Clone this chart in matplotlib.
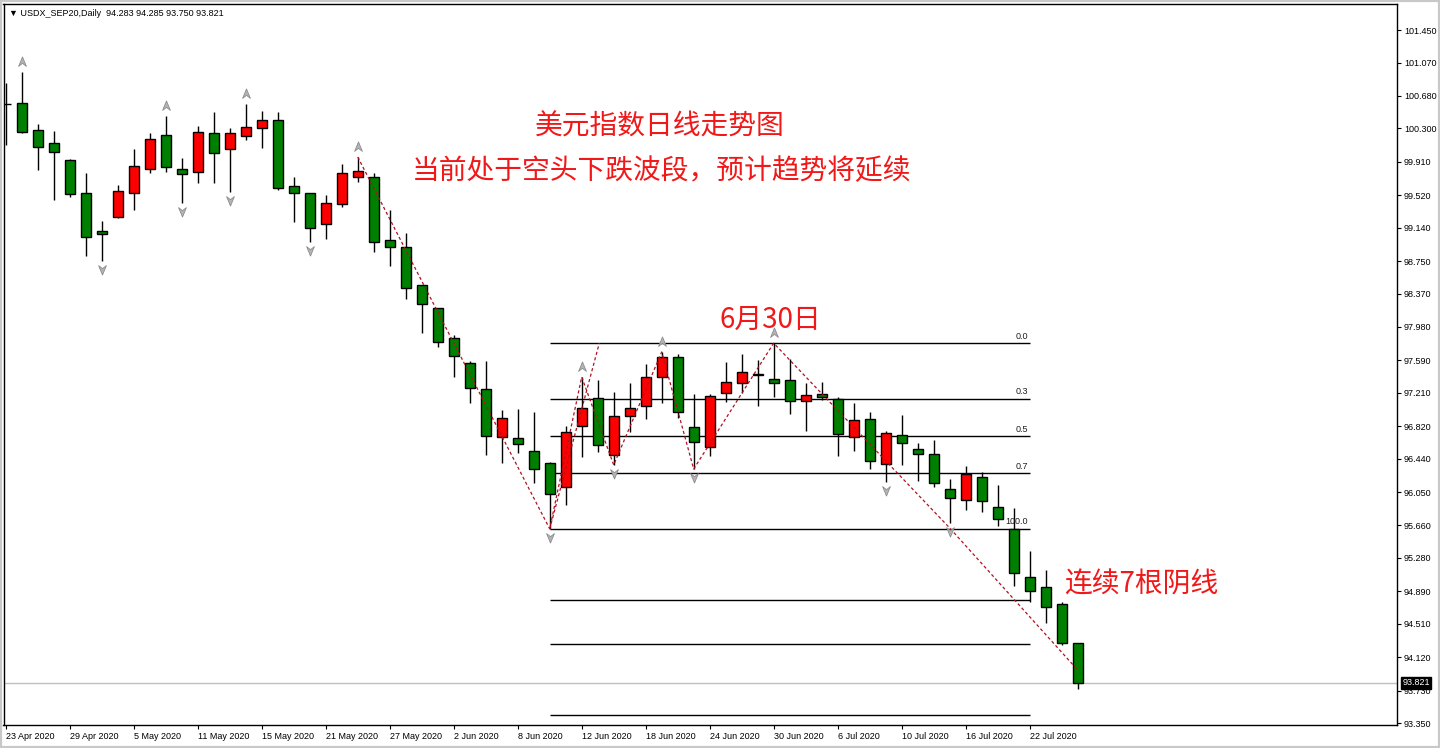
import numpy as np
import matplotlib.pyplot as plt
from matplotlib.path import Path
import matplotlib.transforms as mtransforms
from matplotlib.patches import Rectangle

# USDX Sep20 daily bars, 23 Apr 2020 .. 27 Jul 2020 (index 0 is the clipped first bar)
opens = [100.585, 100.597, 100.281, 100.129, 99.931, 99.545, 99.101, 99.264, 99.545, 99.825,
         100.223, 99.825, 99.790, 100.246, 100.059, 100.211, 100.305, 100.398, 99.627, 99.545,
         99.183, 99.416, 99.732, 99.732, 98.996, 98.914, 98.470, 98.201, 97.850, 97.558,
         97.254, 96.693, 96.681, 96.529, 96.389, 96.109, 96.822, 97.149, 96.483, 96.938,
         97.055, 97.394, 97.628, 96.810, 96.576, 97.207, 97.324, 97.429, 97.371, 97.359,
         97.114, 97.196, 97.137, 96.693, 96.903, 96.377, 96.716, 96.553, 96.494, 96.085,
         95.957, 96.225, 95.875, 95.618, 95.057, 94.940, 94.741, 94.283]
highs = [100.831, 100.959, 100.351, 100.270, 99.940, 99.779, 99.218, 99.638, 100.059, 100.246,
         100.445, 99.954, 100.328, 100.492, 100.305, 100.585, 100.503, 100.492, 99.732, 99.550,
         99.521, 99.884, 99.966, 99.779, 99.346, 99.077, 98.475, 98.205, 97.885, 97.581,
         97.581, 97.009, 97.020, 96.985, 96.400, 96.822, 97.394, 97.359, 97.219, 97.324,
         97.546, 97.687, 97.663, 97.196, 97.196, 97.570, 97.663, 97.593, 97.790, 97.605,
         97.324, 97.336, 97.161, 97.090, 96.985, 96.763, 96.950, 96.623, 96.658, 96.202,
         96.354, 96.284, 96.132, 95.863, 95.361, 95.138, 94.765, 94.285]
lows = [100.106, 100.246, 99.814, 99.463, 99.498, 98.809, 98.750, 99.255, 99.346, 99.779,
        99.790, 99.428, 99.662, 99.662, 99.557, 100.164, 100.071, 99.580, 99.206, 98.972,
        99.007, 99.381, 99.673, 98.855, 98.692, 98.306, 97.909, 97.745, 97.394, 97.090,
        96.483, 96.389, 96.506, 96.155, 95.620, 95.898, 96.459, 96.518, 96.366, 96.751,
        96.903, 97.090, 96.915, 96.319, 96.471, 97.102, 97.207, 97.055, 97.161, 96.962,
        96.763, 97.125, 96.471, 96.529, 96.319, 96.167, 96.366, 96.179, 96.109, 95.688,
        95.840, 95.816, 95.653, 94.952, 94.765, 94.519, 94.262, 93.750]
closes = [100.585, 100.258, 100.083, 100.024, 99.533, 99.031, 99.066, 99.568, 99.860, 100.176,
          99.849, 99.767, 100.258, 100.012, 100.246, 100.316, 100.398, 99.603, 99.545, 99.136,
          99.428, 99.779, 99.802, 98.972, 98.914, 98.434, 98.247, 97.803, 97.640, 97.266,
          96.705, 96.915, 96.611, 96.319, 96.027, 96.751, 97.032, 96.599, 96.938, 97.032,
          97.394, 97.628, 96.985, 96.635, 97.172, 97.336, 97.453, 97.418, 97.324, 97.114,
          97.184, 97.161, 96.728, 96.892, 96.413, 96.740, 96.623, 96.494, 96.155, 95.980,
          96.261, 95.945, 95.735, 95.103, 94.893, 94.706, 94.283, 93.821]

date_labels = ['23 Apr 2020', '29 Apr 2020', '5 May 2020', '11 May 2020', '15 May 2020',
               '21 May 2020', '27 May 2020', '2 Jun 2020', '8 Jun 2020', '12 Jun 2020',
               '18 Jun 2020', '24 Jun 2020', '30 Jun 2020', '6 Jul 2020', '10 Jul 2020',
               '16 Jul 2020', '22 Jul 2020']
price_ticks = [101.450, 101.070, 100.680, 100.300, 99.910, 99.520, 99.140, 98.750, 98.370,
               97.980, 97.590, 97.210, 96.820, 96.440, 96.050, 95.660, 95.280, 94.890,
               94.510, 94.120, 93.730, 93.350]

# fractal arrows (bar indices)
frac_up = [1, 10, 15, 22, 36, 41, 48]
frac_down = [6, 11, 14, 19, 34, 38, 43, 55, 59]

# zigzag / trend lines (bar index, price)
zz1_x = [22, 34, 36, 38, 41, 43, 48, 59, 67]
zz1_y = [99.966, 95.620, 97.394, 96.366, 97.687, 96.319, 97.790, 95.630, 93.970]
zz2_x = [34, 37.1]
zz2_y = [95.620, 97.790]

# fibonacci levels
fib_hi, fib_lo = 97.790, 95.618
fib_levels = [0.0, 0.3, 0.5, 0.7, 1.0, 1.382, 1.618, 2.0]
fib_text = ['0.0', '0.3', '0.5', '0.7', '100.0', '', '', '']
fib_start, fib_end = 34, 64

last_price = 93.821
header = '\u25bc USDX_SEP20,Daily  94.283 94.285 93.750 93.821'

fig = plt.figure(figsize=(14.4, 7.48), dpi=100)
ax = fig.add_axes([3.5 / 1440, 1 - 725 / 748, (1397 - 3.5) / 1440, (725 - 4) / 748])
ax.set_xlim(-0.14, 86.96)
ax.set_ylim(93.327, 101.754)

idx = np.arange(len(opens))
o = np.array(opens); c = np.array(closes)
cols = ['#ff0000' if cc > oo else '#008000' for oo, cc in zip(o, c)]
ax.vlines(idx, lows, highs, color='black', lw=1, zorder=2)
ax.bar(idx, np.maximum(np.abs(c - o), 0.006), bottom=np.minimum(o, c), width=0.64,
       color=cols, edgecolor='black', linewidth=1, zorder=3)

# fib lines
for lv, lab in zip(fib_levels, fib_text):
    p = fib_hi - lv * (fib_hi - fib_lo)
    ax.hlines(p, fib_start, fib_end, color='black', lw=1, zorder=1)
    if lab:
        ax.text(fib_end - 0.1, p + 0.03, lab, ha='right', va='bottom', fontsize=6.5,
                family='Liberation Sans', color='#202020')

# zigzag
ax.plot(zz1_x, zz1_y, color='#b01020', lw=0.9, ls=(0, (2.5, 2)), zorder=4)
ax.plot(zz2_x, zz2_y, color='#b01020', lw=0.9, ls=(0, (2.5, 2)), zorder=4)

# fractal arrows
up_arrow = Path([(0, 1), (0.7, -0.7), (0, -0.15), (-0.7, -0.7), (0, 1)],
                [Path.MOVETO, Path.LINETO, Path.LINETO, Path.LINETO, Path.CLOSEPOLY])
down_arrow = Path([(0, -1), (0.7, 0.7), (0, 0.15), (-0.7, 0.7), (0, -1)],
                  [Path.MOVETO, Path.LINETO, Path.LINETO, Path.LINETO, Path.CLOSEPOLY])
up_tr = ax.transData + mtransforms.ScaledTranslation(0, 10 / 100, fig.dpi_scale_trans)
dn_tr = ax.transData + mtransforms.ScaledTranslation(0, -8 / 100, fig.dpi_scale_trans)
ax.plot(frac_up, [highs[i] for i in frac_up], ls='none', marker=up_arrow, ms=8,
        mfc='#b4b4b4', mec='#8c8c8c', mew=0.6, transform=up_tr, zorder=5)
ax.plot(frac_down, [lows[i] for i in frac_down], ls='none', marker=down_arrow, ms=8,
        mfc='#b4b4b4', mec='#8c8c8c', mew=0.6, transform=dn_tr, zorder=5)

# last price line + label
ax.axhline(last_price, color='#c0c0c0', lw=1, zorder=1)
btr = mtransforms.blended_transform_factory(ax.transAxes, ax.transData)
ax.text(1.004, last_price, f'{last_price:.3f}', transform=btr, ha='left', va='center',
        fontsize=6.5, family='Liberation Sans', color='white', clip_on=False, zorder=10,
        bbox=dict(boxstyle='square,pad=0.15', fc='black', ec='black'))

# annotations
cjk = ['Noto Sans CJK SC', 'DejaVu Sans']
red = '#f01818'
ax.text(40.9, 100.323, '美元指数日线走势图', ha='center', va='center', fontsize=20, color=red, family=cjk)
ax.text(41.0, 99.805, '当前处于空头下跌波段，预计趋势将延续', ha='center', va='center', fontsize=20,
        color=red, family=cjk)
ax.text(47.8, 98.067, '6月30日', ha='center', va='center', fontsize=20, color=red, family=cjk)
ax.text(71.0, 94.965, '连续7根阴线', ha='center', va='center', fontsize=20, color=red, family=cjk)

ax.text(0.004, 0.9875, header, transform=ax.transAxes, ha='left', va='center', fontsize=6.5,
        family=['Liberation Sans', 'DejaVu Sans'], color='black')

# axes styling
for s in ax.spines.values():
    s.set_color('black')
    s.set_linewidth(1)
ax.yaxis.tick_right()
ax.set_yticks(price_ticks)
ax.set_yticklabels([f'{t:.3f}' for t in price_ticks], fontsize=6.5, family='Liberation Sans')
ax.set_xticks(np.arange(0, 4 * len(date_labels), 4))
ax.set_xticklabels(date_labels, fontsize=6.5, family='Liberation Sans', ha='left')
ax.tick_params(axis='both', direction='out', length=3, width=0.8, color='black', pad=2)

fig.patches.append(Rectangle((0, 0), 1, 1, transform=fig.transFigure, fill=False,
                             ec='#c8c8c8', lw=3))

fig.savefig('out.png', dpi=100, facecolor='white')
